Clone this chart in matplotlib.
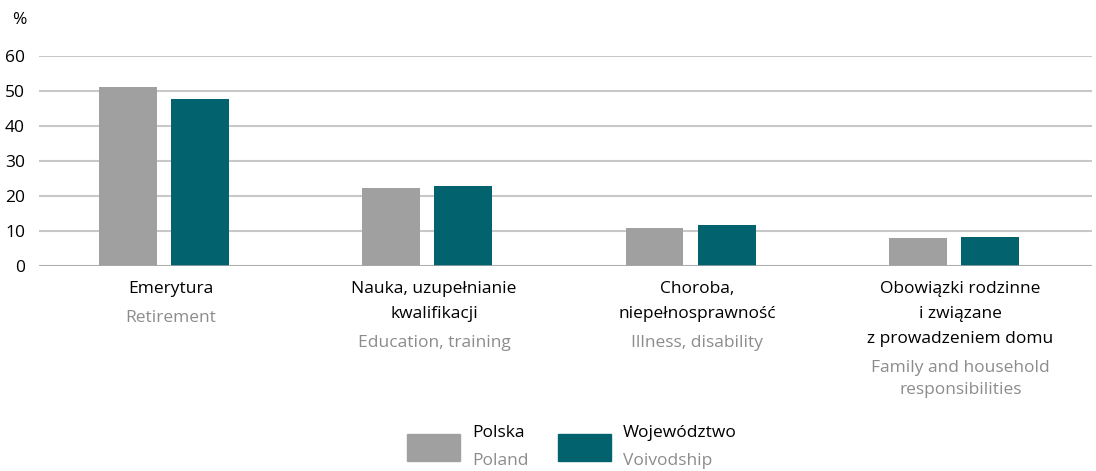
import matplotlib
matplotlib.use("Agg")
import matplotlib.pyplot as plt
import numpy as np
from matplotlib.patches import Rectangle

plt.rcParams['font.family'] = ['Open Sans', 'DejaVu Sans']

categories_pl = ["Emerytura", "Nauka, uzupełnianie\nkwalifikacji", "Choroba,\nniepełnosprawność",
                 "Obowiązki rodzinne\ni związane\nz prowadzeniem domu"]
categories_en = ["Retirement", "Education, training", "Illness, disability",
                 "Family and household\nresponsibilities"]
series_names_pl = ["Polska", "Województwo"]
series_names_en = ["Poland", "Voivodship"]
polska = [51.1, 22.3, 10.9, 8.0]
wojewodztwo = [47.7, 22.9, 11.7, 8.3]
yticks = [0, 10, 20, 30, 40, 50, 60]

GRAY = "#a0a0a0"
TEAL = "#02636f"
ENGRAY = "#8c8c8c"
FS = 12.5

W, H = 1096, 471
fig = plt.figure(figsize=(W / 100, H / 100), dpi=100)
ax = fig.add_axes([39 / W, 1 - 266 / H, (1092 - 39) / W, (266 - 56) / H])

x = np.arange(len(categories_pl))
bw = 0.22
off = 0.137
shift = -0.025
ax.bar(x - off + shift, polska, width=bw, color=GRAY, zorder=3)
ax.bar(x + off + shift, wojewodztwo, width=bw, color=TEAL, zorder=3)

ax.set_xlim(-0.5, len(categories_pl) - 0.5)
ax.set_ylim(0, 60)
ax.set_yticks(yticks)
ax.set_yticklabels([str(t) for t in yticks], fontsize=FS)
ax.set_xticks([])
ax.tick_params(axis='y', length=0, pad=10)
for s in ax.spines.values():
    s.set_visible(False)
ax.grid(axis='y', color="#c8c8c8", linewidth=1.5, zorder=0)
ax.axhline(0, color="#a8a8a8", linewidth=1.8, zorder=4)

LS = 1.72
lh = 17.8  # line height in points
for i, (pl, en) in enumerate(zip(categories_pl, categories_en)):
    n = pl.count("\n") + 1
    ax.annotate(pl, xy=(x[i], 0), xycoords=('data', 'axes fraction'),
                xytext=(0, -11), textcoords='offset points', ha='center', va='top',
                fontsize=FS, color='black', linespacing=LS)
    ax.annotate(en, xy=(x[i], 0), xycoords=('data', 'axes fraction'),
                xytext=(0, -11 - (n - 1) * lh - 21), textcoords='offset points',
                ha='center', va='top', fontsize=FS, color=ENGRAY, linespacing=1.5)

fig.text(12 / W, 1 - 20 / H, "%", fontsize=FS, ha='left', va='center')

# legend
colors = [GRAY, TEAL]
px = [407, 558]
for c, p, npl, nen in zip(colors, px, series_names_pl, series_names_en):
    fig.patches.append(Rectangle((p / W, 1 - 461 / H), 53 / W, 27 / H,
                                 transform=fig.transFigure, color=c))
    fig.text((p + 65) / W, 1 - 433 / H, npl, fontsize=FS, ha='left', va='center')
    fig.text((p + 65) / W, 1 - 461 / H, nen, fontsize=FS, ha='left', va='center', color=ENGRAY)

fig.savefig("out.png", dpi=100)
